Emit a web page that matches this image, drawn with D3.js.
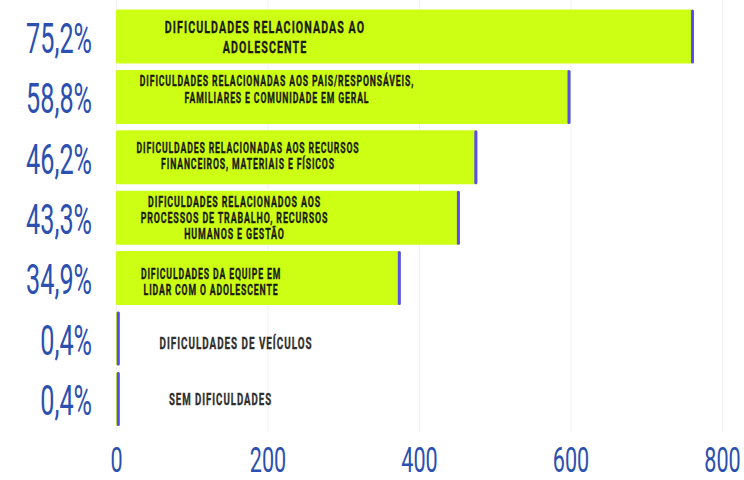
<!DOCTYPE html>
<html>
<head>
<meta charset="utf-8">
<script src="https://cdn.jsdelivr.net/npm/d3@7"></script>
<style>
  html, body { margin: 0; padding: 0; background: #ffffff; }
  svg { display: block; }
</style>
</head>
<body>
<svg id="chart" width="744" height="480"></svg>
<script>
// ---- data ----
const categories = [
  ["DIFICULDADES RELACIONADAS AO", "ADOLESCENTE"],
  ["DIFICULDADES RELACIONADAS AOS PAIS/RESPONSÁVEIS,", "FAMILIARES E COMUNIDADE EM GERAL"],
  ["DIFICULDADES RELACIONADAS AOS RECURSOS", "FINANCEIROS, MATERIAIS E FÍSICOS"],
  ["DIFICULDADES RELACIONADOS AOS", "PROCESSOS DE TRABALHO, RECURSOS", "HUMANOS E GESTÃO"],
  ["DIFICULDADES DA EQUIPE EM", "LIDAR COM O ADOLESCENTE"],
  ["DIFICULDADES DE VEÍCULOS"],
  ["SEM DIFICULDADES"]
];
const values = [763, 600, 477, 454, 376, 5, 5];
const percents = ["75,2%", "58,8%", "46,2%", "43,3%", "34,9%", "0,4%", "0,4%"];
const xTicks = [0, 200, 400, 600, 800];

// ---- label layout (styling) ----
const labelCx = [265, 277, 248, 234.5, 211, 236, 220.5];       // px centre of each label block
const labelLineCentres = [[17.2, 37.2], [11.5, 28], [17.5, 34], [11.5, 27.5, 43.6], [22.5, 39], [32], [27.5]];
const labelSize = [17.2, 14, 14, 14.3, 14, 15.9, 15.6];

const GREEN = "#ccff14";
const PURPLE = "#5a4cf5";
const BLUE = "#2b50b0";
const FONT = "Roboto, 'DejaVu Sans', sans-serif";

const svg = d3.select("#chart");
const idx = d3.range(categories.length);

const x = d3.scaleLinear().domain([0, 800]).range([116, 722]);
const y = d3.scaleBand().domain(idx).range([6.3, 429.1]).paddingInner(0.106).paddingOuter(0.053);

// gridlines
const grid = svg.append("g").attr("transform", "translate(0,432)")
  .call(d3.axisBottom(x).tickValues(xTicks).tickSize(-432).tickFormat(""));
grid.select(".domain").remove();
grid.selectAll("line").attr("stroke", "#f1f1f1").attr("stroke-width", 1);

// bars
const bars = svg.append("g").selectAll("g").data(idx).join("g");
bars.append("rect")
  .attr("x", x(0))
  .attr("y", d => y(d))
  .attr("width", d => x(values[d]) - x(0))
  .attr("height", y.bandwidth())
  .attr("rx", 1.5)
  .attr("fill", GREEN);
bars.append("rect")
  .attr("x", d => x(values[d]) - 3)
  .attr("y", d => y(d))
  .attr("width", 3)
  .attr("height", y.bandwidth())
  .attr("rx", 1.5)
  .attr("fill", PURPLE);

// bar labels
bars.each(function(d) {
  const g = d3.select(this);
  const col = d >= 5 ? "#2e2e2e" : "#1a1a12";
  categories[d].forEach((line, j) => {
    const cy = y(d) + labelLineCentres[d][j];
    const base = cy + labelSize[d] * 0.711 / 2;
    g.append("text")
      .attr("transform", `translate(${labelCx[d]},${base}) scale(0.62,1)`)
      .attr("text-anchor", "middle")
      .attr("font-family", FONT)
      .attr("font-weight", 700)
      .attr("font-size", labelSize[d])
      .attr("letter-spacing", (labelSize[d] * 0.1) + "px")
      .attr("fill", col)
      .attr("stroke", col)
      .attr("stroke-width", 0.35)
      .text(line);
  });
});

// percent labels (left axis)
const yAxis = svg.append("g").attr("transform", "translate(92,0)")
  .call(d3.axisLeft(y).tickSize(0).tickPadding(0).tickFormat(d => percents[d]));
yAxis.select(".domain").remove();
yAxis.selectAll("text")
  .attr("x", 0)
  .attr("dy", "0.39em")
  .attr("transform", "scale(0.6,1)")
  .attr("font-family", FONT)
  .attr("font-size", 42)
  .attr("fill", BLUE);

// bottom axis labels
const xAxis = svg.append("g").attr("transform", "translate(0,472)")
  .call(d3.axisBottom(x).tickValues(xTicks).tickSize(0).tickPadding(0).tickFormat(d3.format("d")));
xAxis.select(".domain").remove();
xAxis.selectAll("text")
  .attr("y", 0)
  .attr("dy", "0em")
  .attr("transform", "scale(0.6,1)")
  .attr("font-family", FONT)
  .attr("font-size", 36)
  .attr("fill", BLUE);
</script>
</body>
</html>
